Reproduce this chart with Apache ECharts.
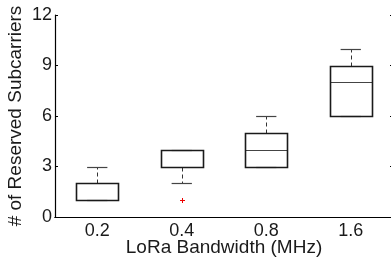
<!DOCTYPE html>
<html><head><meta charset="utf-8">
<script src="https://cdn.jsdelivr.net/npm/echarts@6/dist/echarts.min.js"></script>
<style>html,body{margin:0;padding:0;background:#fff}#c{width:391px;height:259px}</style>
</head><body><div id="c"></div>
<script>
const categories = ['0.2', '0.4', '0.8', '1.6'];
// [lowerWhisker, Q1, median, Q3, upperWhisker]
const boxStats = [
  [1, 1, 1, 2, 3],
  [2, 3, 3, 4, 4],
  [3, 3, 4, 5, 6],
  [6, 6, 8, 9, 10]
];
const outliers = [[1, 1]]; // [category index, value]
const yTicks = { min: 0, max: 12, interval: 3 };

const font = 'Liberation Sans, Arial, Helvetica, sans-serif';
const boxData = boxStats.map((s, i) => [i].concat(s));

const chart = echarts.init(document.getElementById('c'), null, { renderer: 'canvas' });
function snap(v) { return Math.round(v) + 0.5; }
chart.setOption({
  animation: false,
  grid: { left: 55, top: 15, width: 338, height: 202, show: false, containLabel: false, outerBoundsMode: 'none' },
  xAxis: [{
    type: 'category', data: categories, position: 'bottom',
    axisLine: { lineStyle: { color: '#000', width: 1.2 } },
    axisTick: { inside: true, alignWithLabel: true, length: 3, lineStyle: { color: '#000' } },
    axisLabel: { color: '#1a1a1a', fontSize: 18, fontFamily: font, margin: 5 },
    name: 'LoRa Bandwidth (MHz)', nameLocation: 'middle', nameGap: 21, nameMoveOverlap: false,
    nameTextStyle: { color: '#1a1a1a', fontSize: 19, fontFamily: font },
    splitLine: { show: false }
  }, {
    type: 'category', data: categories, position: 'top',
    axisLine: { lineStyle: { color: '#000', width: 1.2 } },
    axisTick: { inside: true, alignWithLabel: true, length: 3, lineStyle: { color: '#000' } },
    axisLabel: { show: false }, splitLine: { show: false }
  }],
  yAxis: [{
    type: 'value', min: yTicks.min, max: yTicks.max, interval: yTicks.interval, position: 'left',
    axisLine: { show: true, lineStyle: { color: '#000', width: 1.2 } },
    axisTick: { show: true, inside: true, length: 3, lineStyle: { color: '#000' } },
    axisLabel: { color: '#1a1a1a', fontSize: 18, fontFamily: font, margin: 3 },
    splitLine: { show: false },
    name: '# of Reserved Subcarriers', nameLocation: 'middle', nameGap: 30, nameMoveOverlap: false,
    nameTextStyle: { color: '#1a1a1a', fontSize: 19, fontFamily: font }
  }, {
    type: 'value', min: yTicks.min, max: yTicks.max, interval: yTicks.interval, position: 'right',
    axisLine: { show: true, lineStyle: { color: '#000', width: 1.2 } },
    axisTick: { show: true, inside: true, length: 3, lineStyle: { color: '#000' } },
    axisLabel: { show: false }, splitLine: { show: false }
  }],
  series: [{
    type: 'custom', xAxisIndex: 0, yAxisIndex: 0, data: boxData,
    renderItem(params, api) {
      const x = api.value(0);
      const lo = api.value(1), q1 = api.value(2), med = api.value(3), q3 = api.value(4), hi = api.value(5);
      const band = api.size([1, 0])[0];
      const cx = api.coord([x, 0])[0];
      const half = band * 0.25, capHalf = band * 0.12;
      const y = v => snap(api.coord([x, v])[1]);
      const xl = snap(cx - half), xr = snap(cx + half);
      const children = [];
      const dash = { stroke: '#333', lineWidth: 1, lineDash: [4, 3] };
      if (hi > q3) children.push({ type: 'line', shape: { x1: snap(cx), y1: y(q3), x2: snap(cx), y2: y(hi) }, style: dash });
      if (lo < q1) children.push({ type: 'line', shape: { x1: snap(cx), y1: y(q1), x2: snap(cx), y2: y(lo) }, style: dash });
      children.push({ type: 'line', shape: { x1: cx - capHalf, y1: y(hi), x2: cx + capHalf, y2: y(hi) }, style: { stroke: '#444', lineWidth: 1.2 } });
      children.push({ type: 'line', shape: { x1: cx - capHalf, y1: y(lo), x2: cx + capHalf, y2: y(lo) }, style: { stroke: '#444', lineWidth: 1.2 } });
      children.push({ type: 'line', shape: { x1: xl, y1: y(med), x2: xr, y2: y(med) }, style: { stroke: '#444', lineWidth: 1.2 } });
      children.push({ type: 'rect', shape: { x: xl, y: y(q3), width: xr - xl, height: y(q1) - y(q3) }, style: { fill: null, stroke: '#1a1a1a', lineWidth: 1.6 } });
      return { type: 'group', children };
    }
  }, {
    type: 'custom', xAxisIndex: 0, yAxisIndex: 0, data: outliers,
    renderItem(params, api) {
      const p = api.coord([api.value(0), api.value(1)]);
      const cx = Math.round(p[0]) + 0.5, cy = Math.round(p[1]) + 0.5, r = 2.5;
      return { type: 'group', children: [
        { type: 'line', shape: { x1: cx - r, y1: cy, x2: cx + r, y2: cy }, style: { stroke: '#e00', lineWidth: 1 } },
        { type: 'line', shape: { x1: cx, y1: cy - r, x2: cx, y2: cy + r }, style: { stroke: '#e00', lineWidth: 1 } }
      ] };
    }
  }]
});
</script></body></html>
